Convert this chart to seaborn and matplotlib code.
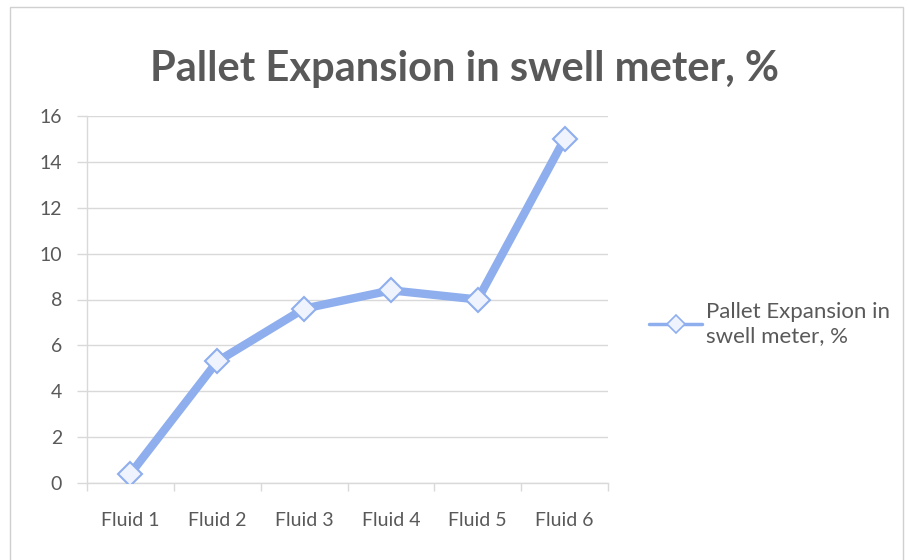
import matplotlib
matplotlib.use("Agg")
import matplotlib.pyplot as plt
from matplotlib.patches import Rectangle
from matplotlib.lines import Line2D
import seaborn as sns
import pandas as pd

# Chart data
categories = ["Fluid 1", "Fluid 2", "Fluid 3", "Fluid 4", "Fluid 5", "Fluid 6"]
expansion = [0.4, 5.3, 7.6, 8.4, 8.0, 15.0]
series_name = "Pallet Expansion in swell meter, %"
y_ticks = [0, 2, 4, 6, 8, 10, 12, 14, 16]

sns.set_theme(style="white")
plt.rcParams["font.family"] = ["Lato", "DejaVu Sans"]

text_color = "#595959"
line_color = "#8FAEEE"
grid_color = "#D9D9D9"

df = pd.DataFrame({"x": range(len(categories)), "y": expansion})

fig = plt.figure(figsize=(9.09, 5.6), dpi=100)
ax = fig.add_axes([87 / 909, 1 - 483 / 560, (608 - 87) / 909, (483 - 116) / 560])

sns.lineplot(data=df, x="x", y="y", ax=ax, color=line_color, linewidth=6,
             marker="D", markersize=12, markerfacecolor="#EEF3FD",
             markeredgecolor=line_color, markeredgewidth=1.5, zorder=3)

ax.set_xlim(-0.5, len(categories) - 0.5)
ax.set_ylim(y_ticks[0], y_ticks[-1])
ax.set_yticks(y_ticks)
ax.set_yticklabels([str(v) for v in y_ticks])
ax.set_xticks(range(len(categories)))
ax.set_xticklabels(categories)
ax.set_xticks([i - 0.5 for i in range(len(categories) + 1)], minor=True)

ax.set_xlabel("")
ax.set_ylabel("")

ax.grid(axis="y", color=grid_color, linewidth=1.0)
ax.grid(axis="x", visible=False)
for side in ["top", "right"]:
    ax.spines[side].set_visible(False)
ax.spines["left"].set_color(grid_color)
ax.spines["bottom"].set_color(grid_color)
ax.spines["left"].set_linewidth(1.0)
ax.spines["bottom"].set_linewidth(1.0)

ax.tick_params(axis="y", which="major", length=7, width=1.0, color=grid_color,
               labelsize=14, labelcolor=text_color, pad=11, left=True)
ax.tick_params(axis="x", which="major", length=0, labelsize=14,
               labelcolor=text_color, pad=21)
ax.tick_params(axis="x", which="minor", length=6, width=1.0, color=grid_color,
               bottom=True)

fig.text(465 / 909, 1 - 69 / 560, series_name, ha="center", va="center",
         fontsize=30, fontweight="bold", color=text_color)

# Legend entry on the right
handle = Line2D([0], [0], color=line_color, linewidth=2.5, marker="D",
                markersize=9, markerfacecolor="#EEF3FD",
                markeredgecolor=line_color, markeredgewidth=1.2)
fig.legend([handle], ["Pallet Expansion in\nswell meter, %"],
           loc="center left", bbox_to_anchor=(640 / 909, 1 - 324 / 560),
           frameon=False, fontsize=16, labelcolor=text_color,
           handlelength=2.4, handletextpad=0.15, borderaxespad=0)

# Chart area border
fig.patches.append(Rectangle((10 / 909, -0.05), (903 - 10) / 909, 1.05 - 7 / 560,
                             transform=fig.transFigure, fill=False,
                             edgecolor="#D0D0D0", linewidth=1.0))

fig.savefig("out.png", dpi=100, facecolor="white")
